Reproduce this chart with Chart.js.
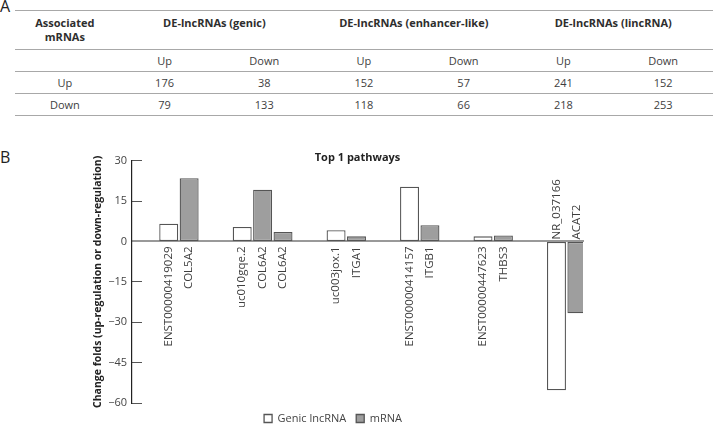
<!DOCTYPE html>
<html>
<head>
<meta charset="utf-8">
<script src="https://cdn.jsdelivr.net/npm/chart.js@4.4.1/dist/chart.umd.min.js"></script>
<style>
  html, body { margin: 0; padding: 0; background: #fff; }
  body { position: relative; width: 713px; height: 431px; overflow: hidden; font-family: "Open Sans", sans-serif; }
  .panel-label { position: absolute; left: 0; font-size: 16px; line-height: 16px; color: #222; }
  #labelA { top: -2px; }
  #labelB { top: 149px; }
  #counts { position: absolute; left: 15px; top: 10px; width: 698px; border-collapse: collapse; table-layout: fixed;
            font-size: 11px; line-height: 14px; color: #3e3e3e; }
  #counts tr { border-top: 1px solid #a8a8a8; border-bottom: 1px solid #a8a8a8; }
  #counts th, #counts td { padding: 0; text-align: center; font-weight: normal; }
  #counts tr.head th { font-weight: 700; color: #2e2e2e; vertical-align: top; padding-top: 5px; height: 33px; }
  #counts tr.sub td, #counts tr.body td { height: 21px; vertical-align: middle; }
  #chartBox { position: absolute; left: 0; top: 120px; width: 713px; height: 314px; }
</style>
</head>
<body>
<div class="panel-label" id="labelA">A</div>
<table id="counts"></table>
<div class="panel-label" id="labelB">B</div>
<div id="chartBox"><canvas id="chart"></canvas></div>
<script>
// panel A: counts of DE-lncRNA / mRNA pairs
const lncrnaClasses = ["DE-lncRNAs (genic)", "DE-lncRNAs (enhancer-like)", "DE-lncRNAs (lincRNA)"];
const directions = ["Up", "Down"];
const mrnaUpCounts = [176, 38, 152, 57, 241, 152];
const mrnaDownCounts = [79, 133, 118, 66, 218, 253];

// panel B: top 1 pathways
const geneLabels = ["ENST00000419029", "COL5A2", "uc010gqe.2", "COL6A2", "COL6A2", "uc003jox.1", "ITGA1",
                    "ENST00000414157", "ITGB1", "ENST00000447623", "THBS3", "NR_037166", "ACAT2"];
const geneGroup = [0, 0, 1, 1, 1, 2, 2, 3, 3, 4, 4, 5, 5];
const lncrnaFolds = [6.6, null, 5.4, null, null, 4.2, null, 20.3, null, 1.9, null, -55.3, null];
const mrnaFolds = [null, 23.5, null, 19.2, 3.5, null, 1.9, null, 6.0, null, 2.2, null, -26.7];

// build the table
let html = "<colgroup>" + "<col>".repeat(7) + "</colgroup>";
html += '<tr class="head"><th>Associated<br>mRNAs</th>' +
  lncrnaClasses.map(c => `<th colspan="2">${c}</th>`).join("") + "</tr>";
html += '<tr class="sub"><td></td>' +
  lncrnaClasses.map(() => directions.map(d => `<td>${d}</td>`).join("")).join("") + "</tr>";
[mrnaUpCounts, mrnaDownCounts].forEach((row, r) => {
  html += `<tr class="body"><td>${directions[r]}</td>` + row.map(v => `<td>${v}</td>`).join("") + "</tr>";
});
document.getElementById("counts").innerHTML = html;

// bars sit next to each other inside a pathway, with a gap between pathways
const GROUP_GAP = 1.6;
const barPositions = geneLabels.map((_, i) => i + geneGroup[i] * GROUP_GAP);
const toPoints = values => values
  .map((v, i) => ({x: barPositions[i], y: v}))
  .filter(p => p.y !== null);

const FONT = '"Open Sans", sans-serif';
Chart.defaults.font.family = FONT;

// gene names written along each bar, below zero for up, above zero for down
const geneLabelPlugin = {
  id: "geneLabels",
  afterDatasetsDraw(chart) {
    const {ctx, scales: {x, y}} = chart;
    const zero = y.getPixelForValue(0);
    ctx.save();
    ctx.font = "11.5px " + FONT;
    ctx.fillStyle = "#3e3e3e";
    ctx.textBaseline = "middle";
    geneLabels.forEach((label, i) => {
      const value = lncrnaFolds[i] !== null ? lncrnaFolds[i] : mrnaFolds[i];
      ctx.save();
      ctx.translate(x.getPixelForValue(barPositions[i]), zero);
      ctx.rotate(-Math.PI / 2);
      if (value >= 0) {
        ctx.textAlign = "right";
        ctx.fillText(label, -5, 0);
      } else {
        ctx.textAlign = "left";
        ctx.fillText(label, 2, 0);
      }
      ctx.restore();
    });
    ctx.restore();
  }
};

const barStyle = {borderColor: "#555", borderWidth: 1.3, borderSkipped: false,
                  grouped: false, categoryPercentage: 1, barPercentage: 0.93};

new Chart(document.getElementById("chart"), {
  type: "bar",
  data: {
    datasets: [
      {label: "Genic lncRNA", data: toPoints(lncrnaFolds), backgroundColor: "#ffffff", ...barStyle},
      {label: "mRNA", data: toPoints(mrnaFolds), backgroundColor: "#9e9e9e", ...barStyle}
    ]
  },
  options: {
    responsive: true,
    maintainAspectRatio: false,
    animation: false,
    events: [],
    layout: {padding: {left: 83, right: 130, top: 0, bottom: 0}},
    scales: {
      x: {
        type: "linear",
        position: {y: 0},
        offset: false,
        min: -1.8,
        max: 20.3,
        grid: {display: false},
        ticks: {display: false},
        border: {color: "#999", width: 2},
        afterBuildTicks: axis => { axis.ticks = barPositions.map(v => ({value: v})); },
        afterFit: axis => { axis.height = 8; }
      },
      y: {
        min: -60,
        max: 30,
        ticks: {
          stepSize: 15,
          padding: 15,
          color: "#444",
          font: {size: 11},
          callback: v => (v < 0 ? "\u2212" + Math.abs(v) : String(v))
        },
        grid: {drawOnChartArea: false, tickLength: -10, tickColor: "#555", lineWidth: 1},
        border: {color: "#222", width: 1.2},
        title: {
          display: true,
          text: "Change folds (up-regulation or down-regulation)",
          color: "#222",
          font: {size: 10.5, weight: "bold"},
          padding: {top: 9, bottom: 0}
        },
        afterFit: axis => { axis.width = 49; }
      }
    },
    plugins: {
      title: {
        display: true,
        text: "Top 1 pathways",
        fullSize: false,
        color: "#222",
        font: {size: 11, weight: "bold"},
        padding: {top: 31.1, bottom: -3.6}
      },
      legend: {
        position: "bottom",
        labels: {boxWidth: 8, boxHeight: 8, padding: 10, color: "#444", font: {size: 11}}
      },
      tooltip: {enabled: false}
    }
  },
  plugins: [geneLabelPlugin]
});
</script>
</body>
</html>
